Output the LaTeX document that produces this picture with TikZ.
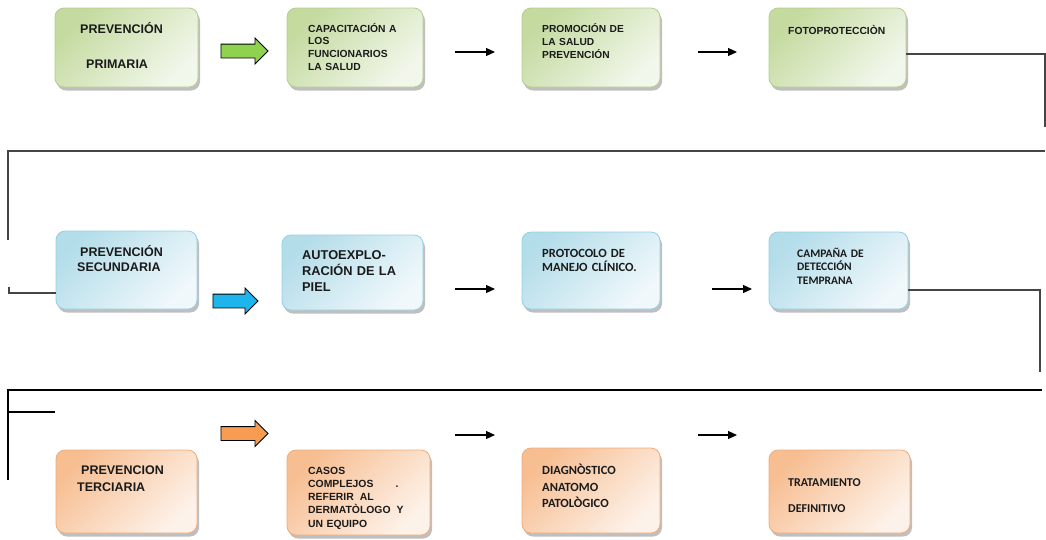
\documentclass[tikz,border=0pt]{standalone}
\usepackage{fontspec}
\setmainfont{Liberation Sans}
\newfontfamily\calb{Carlito}
\usetikzlibrary{shapes.arrows,shadows,arrows.meta}
\definecolor{gA}{HTML}{C4DA9F}
\definecolor{gB}{HTML}{F2F7EB}
\definecolor{gD}{HTML}{B5CE8E}
\definecolor{bA}{HTML}{B4DDEA}
\definecolor{bB}{HTML}{F0F8FB}
\definecolor{bD}{HTML}{95D0E2}
\definecolor{oA}{HTML}{F7BE92}
\definecolor{oB}{HTML}{FDF2E9}
\definecolor{oD}{HTML}{F0AC7A}
\definecolor{lineC}{HTML}{454545}
\definecolor{arG}{HTML}{8ED24F}
\definecolor{arB}{HTML}{1DB5EC}
\definecolor{arO}{HTML}{F79C50}
\definecolor{txt}{HTML}{1A1A1A}
\newcommand\fa[2]{\fontsize{#1}{#2}\selectfont\bfseries}
\newcommand\fc[2]{\calb\fontsize{#1}{#2}\selectfont\bfseries}
\tikzset{
  box/.style={rectangle, rounded corners=9pt, line width=0.8pt, inner sep=0pt,
     drop shadow={shadow xshift=2pt, shadow yshift=-3.5pt, fill=black, opacity=0.25}},
  gbox/.style={box, draw=gD, top color=gA, bottom color=gB, shading angle=45},
  bbox/.style={box, draw=bD, top color=bA, bottom color=bB, shading angle=45},
  obox/.style={box, draw=oD, top color=oA, bottom color=oB, shading angle=45},
  lbl/.style={anchor=base west, inner sep=0pt, align=left, text width=140pt, text=txt},
  blk/.style={shape=single arrow, draw=black, line width=0.9pt, inner xsep=0pt, inner ysep=6.5pt,
     minimum width=25pt, single arrow head extend=6pt},
  larr/.style={-{Triangle[length=9pt,width=8pt]}, line width=1.1pt, black},
  conn/.style={line width=1.4pt, lineC},
}
\begin{document}
\begin{tikzpicture}[x=1pt,y=-1pt]
\useasboundingbox (0,0) rectangle (1046,539);

% row 1
\node[gbox, minimum width=143pt, minimum height=79pt] (g1) at (126.5,47.5) {};
\node[gbox, minimum width=136pt, minimum height=79pt] (g2) at (355,47.5) {};
\node[gbox, minimum width=138pt, minimum height=79pt] (g3) at (591,47.5) {};
\node[gbox, minimum width=137pt, minimum height=79pt] (g4) at (837.5,47.5) {};
\node[lbl, font=\fa{12.5}{35}] (tg1) at (80,33) {PREVENCIÓN\\\hspace*{6pt}PRIMARIA};
\node[lbl, font=\fa{10.3}{12.8}] (tg2) at (308,32) {CAPACITACIÓN A\\LOS\\FUNCIONARIOS\\LA SALUD};
\node[lbl, font=\fa{10.2}{13.3}] (tg3) at (542,32) {PROMOCIÓN DE\\LA SALUD\\PREVENCIÓN};
\node[lbl, font=\fa{10.3}{12}] (tg4) at (788,34) {FOTOPROTECCIÒN};

% row 2
\node[bbox, minimum width=141pt, minimum height=78pt] (b1) at (126.5,270) {};
\node[bbox, minimum width=141pt, minimum height=75pt] (b2) at (352.5,272.5) {};
\node[bbox, minimum width=138pt, minimum height=77pt] (b3) at (591,270.5) {};
\node[bbox, minimum width=139pt, minimum height=77pt] (b4) at (838.5,270.5) {};
\node[lbl, font=\fa{12.5}{15}] (tb1) at (80,256) {PREVENCIÓN\\\hspace*{-3pt}SECUNDARIA};
\node[lbl, font=\fa{12.8}{16}] (tb2) at (302,259.5) {AUTOEXPLO-\\RACIÓN DE LA\\PIEL};
\node[lbl, font=\fc{12.5}{13.5}] (tb3) at (542,257.5) {PROTOCOLO DE\\MANEJO CLÍNICO.};
\node[lbl, font=\fc{11.5}{13.7}] (tb4) at (797,257) {CAMPAÑA DE\\DETECCIÓN\\TEMPRANA};

% row 3
\node[obox, minimum width=141pt, minimum height=83pt] (o1) at (126.5,491.5) {};
\node[obox, minimum width=143pt, minimum height=85pt] (o2) at (358.5,492.5) {};
\node[obox, minimum width=138pt, minimum height=85pt] (o3) at (591,490.5) {};
\node[obox, minimum width=141pt, minimum height=83pt] (o4) at (839.5,491.5) {};
\node[lbl, font=\fa{12.5}{16.7}] (to1) at (81,474.5) {PREVENCION\\\hspace*{-4pt}TERCIARIA};
\node[lbl, font=\fa{10.4}{13.3}] (to2) at (308,474) {CASOS\\COMPLEJOS\hspace{22pt}.\\REFERIR\hspace{6pt}AL\\DERMATÒLOGO\hspace{6pt}Y\\UN EQUIPO};
\node[lbl, font=\fc{12.5}{16.7}] (to3) at (542,474.5) {DIAGNÒSTICO\\ANATOMO\\PATOLÒGICO};
\node[lbl, font=\fc{12}{26.5}] (to4) at (788,486) {TRATAMIENTO\\DEFINITIVO};

% block arrows
\node[blk, fill=arG, minimum height=47pt] (ag) at (241,51) {};
\node[blk, fill=arB, minimum height=45pt] (ab) at (232,301) {};
\node[blk, fill=arO, minimum height=47pt] (ao) at (241,433.5) {};

% line arrows
\coordinate (p1s) at (455,52);  \coordinate (p1e) at (495,52);
\coordinate (p2s) at (698,52);  \coordinate (p2e) at (737,52);
\coordinate (q1s) at (455,289); \coordinate (q1e) at (495,289);
\coordinate (q2s) at (712,289); \coordinate (q2e) at (752,289);
\coordinate (r1s) at (455,435); \coordinate (r1e) at (495,435);
\coordinate (r2s) at (698,435); \coordinate (r2e) at (737,435);
\foreach \a in {p1,p2,q1,q2,r1,r2} \draw[larr] (\a s) -- (\a e);

% connector lines
\coordinate (c1) at (1045,127);
\draw[conn] ([yshift=-6.5pt]g4.east) -| (c1);
\coordinate (c2a) at (1045,151);
\coordinate (c2b) at (8,240);
\draw[conn] (c2a) -| (c2b);
\coordinate (c3) at (9,287);
\draw[conn] (c3) |- ([yshift=-23pt]b1.west);
\coordinate (c4) at (1040,372);
\draw[conn] ([yshift=-19.5pt]b4.east) -| (c4);
\coordinate (c5a) at (1042,390);
\coordinate (c5b) at (8,480);
\coordinate (c5c) at (8,412);
\coordinate (c5d) at (55,412);
\draw[conn, black] (c5a) -| (c5b);
\draw[conn, black] (c5c) -- (c5d);
\end{tikzpicture}
\end{document}
